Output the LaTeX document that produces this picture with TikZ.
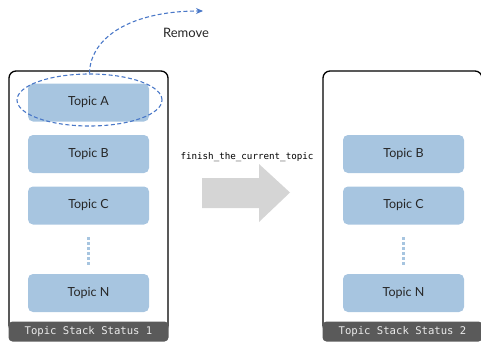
\documentclass[tikz,border=0pt]{standalone}
\usepackage{fontspec}
\setmainfont{Lato}
\setmonofont{DejaVu Sans Mono}
\usetikzlibrary{arrows.meta,shapes.geometric}
\definecolor{topicblue}{HTML}{A7C5E0}
\definecolor{dashblue}{HTML}{4A78C8}
\definecolor{bargray}{HTML}{5A5A5A}
\definecolor{arrowgray}{HTML}{D5D5D5}
\tikzset{
  topic/.style={fill=topicblue, rounded corners=5pt, minimum width=121pt, minimum height=38pt, inner sep=0pt, text=black!85, font=\fontsize{12.5}{14}\selectfont},
  container/.style={draw=black, line width=1.3pt, rounded corners=7pt},
  statusbar/.style={fill=bargray, rounded corners=4pt, minimum width=160pt, minimum height=20pt, inner sep=0pt, text=white!92!black, font=\ttfamily\fontsize{10.6}{12}\selectfont},
  vdots/.style={draw=topicblue, line width=3.5pt, dash pattern=on 3pt off 2pt},
  removal/.style={draw=dashblue, line width=1.1pt, dash pattern=on 4pt off 2.5pt},
}
\begin{document}
\begin{tikzpicture}[x=1pt,y=-1pt]
\useasboundingbox (0,0) rectangle (481,345);
% left container
\draw[container] (9,71) rectangle (168,332);
\node[statusbar] (bar1) at (88.5,331.5) {Topic Stack Status 1};
\node[topic] (a1) at (88.5,102.5) {Topic A};
\node[topic] (b1) at (88.5,154) {Topic B};
\node[topic] (c1) at (88.5,205.5) {Topic C};
\node[topic] (n1) at (88.5,293) {Topic N};
\coordinate (d1t) at (88.5,237);
\coordinate (d1b) at (88.5,266);
\draw[vdots] (d1t) -- (d1b);
% ellipse + remove
\node[removal, ellipse, minimum width=145pt, minimum height=52pt, inner sep=0pt] (sel) at (89.5,100) {};
\coordinate (rm) at (203,11);
\draw[removal, -{Stealth[length=7pt,width=6pt]}] (sel.north) .. controls (90,38) and (130,11) .. (rm);
\node[font=\fontsize{13}{15}\selectfont, text=black!85] (rmtext) at (186,33) {Remove};
% transition arrow
\fill[arrowgray] (202,178) -- (259,178) -- (259,164) -- (290,192.5) -- (259,222) -- (259,208) -- (202,208) -- cycle;
\node[font=\ttfamily\fontsize{9.2}{11}\selectfont] (lbl) at (247,157) {finish\_the\_current\_topic};
% right container
\draw[container] (323,71) rectangle (482,332);
\node[statusbar] (bar2) at (402.5,331.5) {Topic Stack Status 2};
\node[topic] (b2) at (403.5,154) {Topic B};
\node[topic] (c2) at (403.5,205.5) {Topic C};
\node[topic] (n2) at (403.5,293) {Topic N};
\coordinate (d2t) at (403.5,237);
\coordinate (d2b) at (403.5,266);
\draw[vdots] (d2t) -- (d2b);
\end{tikzpicture}
\end{document}
